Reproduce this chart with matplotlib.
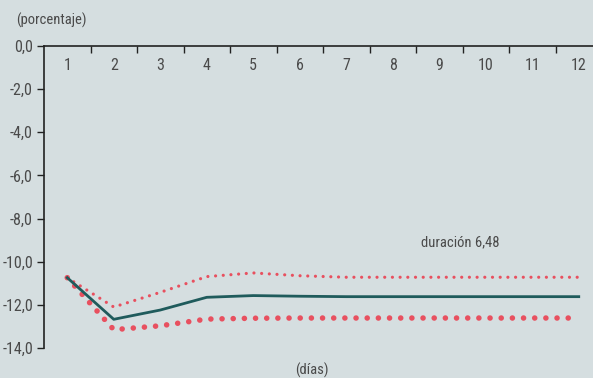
import matplotlib.pyplot as plt
import numpy as np

dias = list(range(1, 13))
central = [-10.74, -12.67, -12.24, -11.65, -11.57, -11.60, -11.62, -11.62, -11.62, -11.62, -11.62, -11.62]
superior = [-10.74, -12.10, -11.42, -10.69, -10.52, -10.65, -10.72, -10.72, -10.72, -10.72, -10.72, -10.72]
inferior = [-10.74, -13.15, -12.97, -12.66, -12.62, -12.61, -12.61, -12.61, -12.61, -12.61, -12.61, -12.61]
yticks = [0, -2, -4, -6, -8, -10, -12, -14]

bg = "#d5dee0"
txt = "#4a4a4a"
red = "#e8505f"
teal = "#1f5b5c"

plt.rcParams["font.family"] = ["Liberation Sans Narrow", "DejaVu Sans Condensed",
                               "Roboto Condensed", "Open Sans Condensed", "DejaVu Sans"]
plt.rcParams["font.stretch"] = "condensed"

fig = plt.figure(figsize=(5.93, 3.78), dpi=100, facecolor=bg)
ax = fig.add_axes([44 / 593, 1 - 348 / 378, 558 / 593, 302 / 378])
ax.set_facecolor(bg)

ax.plot(dias, central, color=teal, lw=2.0, zorder=3)
ax.plot(dias, superior, color=red, lw=2.3, linestyle=(0, (0.01, 2.4)),
        dash_capstyle="round", zorder=2)
ax.plot(dias, inferior, color=red, lw=4.0, linestyle=(0, (0.01, 2.0)),
        dash_capstyle="round", zorder=2)

ax.set_xlim(0.5, 12.5)
ax.set_ylim(-14, 0)

for s in ["right", "bottom"]:
    ax.spines[s].set_visible(False)
for s in ["top", "left"]:
    ax.spines[s].set_color("#222222")
    ax.spines[s].set_linewidth(1.2)

ax.xaxis.tick_top()
ax.set_xticks(np.arange(1.5, 12, 1))
ax.set_xticklabels([])
ax.tick_params(axis="x", direction="in", length=5, width=1, color="#222222")
for d in dias:
    ax.text(d, -0.9, str(d), ha="center", va="center", fontsize=11.5, color=txt)

ax.set_yticks(yticks)
ax.set_yticklabels([f"{v:.1f}".replace(".", ",") for v in yticks])
ax.tick_params(axis="y", direction="out", length=5, width=1, color="#222222",
               labelsize=11.5, labelcolor=txt, pad=3)

fig.text(16 / 593, 1 - 20 / 378, "(porcentaje)", ha="left", va="center",
         fontsize=10.5, color=txt)
fig.text(312 / 593, 1 - 370 / 378, "(días)", ha="center", va="center",
         fontsize=10.5, color=txt)
ax.text(9.45, -9.1, "duración 6,48", ha="center", va="center",
        fontsize=10.5, color=txt)

fig.savefig("out.png", dpi=100, facecolor=bg)
